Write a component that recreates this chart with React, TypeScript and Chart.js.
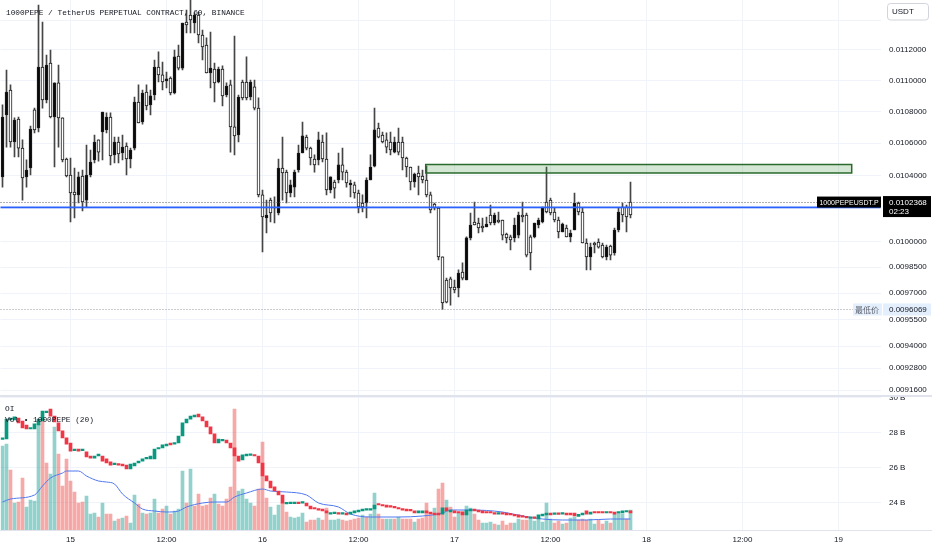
import React, { useEffect, useRef } from 'react';
import { Chart, registerables } from 'chart.js';

Chart.register(...registerables);

// ---------- text ----------
const TITLE = '1000PEPE / TetherUS PERPETUAL CONTRACT, 60, BINANCE';
const SYMBOL_LABEL = '1000PEPEUSDT.P';
const COUNTDOWN = '02:23';
const LOW_LABEL = '最低价';
const CURRENCY = 'USDT';
const OI_TITLE = 'OI';
const VOL_TITLE = 'Vol • 1000PEPE (20)';

// ---------- categories (time slots) ----------
const SLOT_COUNT = 220;
const START_MS = Date.UTC(2024, 4, 14, 15, 30);
const categories: string[] = Array.from({ length: SLOT_COUNT }, (_, i) =>
  new Date(START_MS + i * 30 * 60000).toISOString().slice(5, 16)
);
const timeTickIndex = [17, 41, 65, 89, 113, 137, 161, 185, 209];
const timeTickText = ['15', '12:00', '16', '12:00', '17', '12:00', '18', '12:00', '19'];

// ---------- price candles (price x 1e7) ----------
const openE7 = [
  107650, 109250, 106070, 107460, 105690, 103840, 104330, 106890, 106830, 110880,
  108740, 111010, 107650, 109840, 107590, 104950, 103960, 102920, 102800, 103900,
  102370, 104020, 104820, 106070, 105440, 107970, 107650, 105200, 106070, 105320,
  105750, 105010, 105570, 108610, 107270, 109190, 108350, 109000, 110880, 110360,
  109900, 110100, 109190, 111540, 110810, 113800, 113670, 114010, 114340, 113000,
  112200, 110490, 110810, 109840, 110750, 109000, 109640, 107020, 106450, 108930,
  108870, 108870, 109900, 108220, 102800, 101470, 101590, 101710, 102070, 104450,
  104140, 102920, 103410, 104200, 105380, 106450, 105690, 105070, 104640, 106200,
  105010, 103100, 103900, 103220, 104640, 104200, 103530, 103530, 102920, 102070,
  102070, 103710, 104510, 106830, 106380, 106070, 105750, 105570, 106070, 105440,
  105070, 104510, 103590, 104080, 103900, 103710, 102800, 101890, 102010, 99100,
  96440, 96490, 97300, 97180, 98160, 97870, 100220, 100990, 100990, 100810,
  100810, 101050, 101110, 101590, 101170, 100390, 100220, 100100, 100990, 101590,
  101470, 99210, 99330, 101110, 101290, 102070, 101770, 101710, 101290, 100570,
  101050, 100280, 100510, 102310, 101770, 99920, 99100, 99680, 99800, 99680,
  99100, 99680, 99210, 100690, 101770, 101590, 101470, 101590,
];
const highE7 = [
  108420, 110680, 109710, 107590, 107650, 106200, 104950, 107080, 108220, 115020,
  113870, 111670, 112000, 109840, 111010, 107590, 105070, 105070, 104450, 104200,
  104330, 105880, 105570, 106510, 106200, 107970, 107910, 107910, 106380, 106380,
  106510, 106010, 105690, 108930, 109710, 109380, 109710, 109380, 111340, 111870,
  111210, 110550, 110230, 112000, 112330, 113800, 114680, 115560, 114480, 114550,
  113330, 112800, 113200, 111140, 110880, 110950, 109840, 110030, 112930, 109060,
  110030, 111540, 110030, 110030, 108870, 103100, 102490, 102610, 102680, 105010,
  106380, 104330, 103710, 104330, 105880, 107330, 106510, 105750, 105260, 106700,
  106510, 106640, 103900, 103710, 105380, 105690, 104330, 103710, 103590, 103100,
  102800, 103840, 105260, 108220, 107270, 106700, 106640, 106700, 106380, 106950,
  106380, 105130, 104510, 104140, 104570, 104330, 104570, 102980, 102310, 102070,
  99100, 97870, 97930, 97760, 98340, 98750, 100280, 101710, 102370, 101410,
  101410, 101470, 102190, 101710, 101770, 101290, 100510, 100390, 101410, 101770,
  102370, 101710, 100390, 101110, 101410, 102070, 104510, 102610, 102010, 101470,
  101110, 100990, 100690, 102920, 102370, 102010, 100160, 99920, 99980, 100160,
  99920, 99800, 99800, 100810, 102010, 102310, 102190, 103590,
];
const lowE7 = [
  103280, 105750, 105750, 105130, 105130, 102490, 103280, 104020, 106640, 106700,
  108220, 108550, 107590, 104510, 105750, 104820, 103900, 101170, 101410, 102310,
  101830, 102070, 103900, 104760, 104880, 104950, 106640, 104640, 104760, 104760,
  104950, 104020, 104450, 105570, 107270, 107200, 108100, 107780, 108740, 109900,
  109380, 109510, 109060, 109120, 110680, 110680, 113130, 113130, 113130, 112470,
  111340, 110490, 109510, 108610, 109840, 108350, 108930, 105440, 105260, 106070,
  108740, 108740, 108740, 108100, 102680, 99390, 100510, 101170, 101110, 101590,
  102490, 102310, 102680, 102680, 104200, 105380, 105570, 104640, 104200, 104640,
  104820, 102800, 102920, 102610, 103530, 103710, 103280, 102680, 102610, 101710,
  101770, 101410, 103710, 104510, 106320, 106010, 105380, 105260, 105380, 105260,
  104330, 103900, 103100, 103280, 102800, 103530, 102680, 101710, 101890, 98920,
  96069, 96440, 96320, 97010, 96780, 97760, 97760, 100100, 100990, 100510,
  100570, 100870, 100990, 100990, 101110, 100100, 99920, 99510, 99980, 100220,
  101170, 99100, 98340, 100220, 100810, 101110, 101710, 101590, 101170, 100220,
  100570, 100280, 99980, 100690, 101590, 99920, 98340, 98340, 99330, 99620,
  99040, 98920, 98920, 99210, 100570, 101170, 100570, 101410,
];
const closeE7 = [
  103900, 107780, 109380, 106070, 107520, 105690, 103900, 104450, 108100, 106950,
  110880, 108740, 111140, 107650, 109840, 107590, 105010, 104020, 102980, 102800,
  103960, 102490, 104020, 104950, 106200, 106700, 106830, 107650, 105260, 106070,
  105380, 105820, 105010, 105690, 108610, 107330, 109250, 108420, 109060, 110880,
  110360, 109970, 110160, 109190, 111600, 110810, 113870, 114340, 113800, 114340,
  113000, 112330, 110490, 110750, 109900, 110750, 109060, 109710, 107020, 106510,
  109900, 109900, 108930, 109580, 108220, 102800, 101410, 102490, 102010, 101710,
  104450, 104200, 102920, 103280, 104330, 105380, 106380, 105690, 105010, 104950,
  106070, 105010, 103100, 103590, 103710, 104640, 104200, 103410, 103410, 102920,
  102310, 102310, 103710, 104570, 106950, 106510, 106200, 106070, 105440, 106070,
  106070, 105070, 104510, 103590, 104140, 103960, 103710, 102800, 102250, 102010,
  99100, 97760, 97820, 97350, 97300, 98220, 97760, 100220, 101170, 101110,
  100930, 100870, 101590, 101110, 101290, 101290, 100450, 100280, 100220, 100390,
  101590, 101590, 100280, 100280, 100990, 101170, 102370, 102490, 101770, 101290,
  100570, 100810, 100280, 100690, 102310, 101770, 99920, 99100, 99920, 99980,
  99800, 99100, 99740, 99330, 100690, 102070, 102070, 102368,
];

// ---------- open interest (billions) ----------
const oiOpen = [
  27.62, 27.64, 28.73, 28.73, 28.84, 28.67, 28.44, 28.21, 28.21, 28.44,
  28.67, 29.15, 29.35, 28.95, 28.56, 28.10, 27.70, 27.41, 26.98, 27.07,
  26.98, 26.90, 26.67, 26.55, 26.67, 26.67, 26.50, 26.33, 26.18, 26.21,
  26.21, 26.15, 25.93, 26.10, 26.27, 26.38, 26.50, 26.50, 26.50, 27.07,
  27.13, 27.24, 27.41, 27.35, 27.41, 27.81, 28.56, 28.78, 28.90, 29.07,
  28.90, 28.67, 28.33, 27.93, 27.41, 27.53, 27.58, 27.41, 27.13, 26.67,
  26.44, 26.67, 26.70, 26.73, 26.67, 26.27, 25.53, 25.24, 24.90, 24.67,
  24.44, 23.93, 23.95, 23.95, 24.01, 23.98, 23.98, 23.81, 23.70, 23.64,
  23.64, 23.53, 23.35, 23.38, 23.41, 23.35, 23.41, 23.35, 23.41, 23.47,
  23.53, 23.58, 23.58, 23.64, 23.93, 23.87, 23.87, 23.81, 23.75, 23.70,
  23.64, 23.64, 23.58, 23.53, 23.41, 23.41, 23.53, 23.47, 23.41, 23.41,
  23.35, 23.70, 23.47, 23.53, 23.47, 23.47, 23.30, 23.53, 23.64, 23.58,
  23.53, 23.47, 23.47, 23.41, 23.35, 23.41, 23.41, 23.35, 23.33, 23.30,
  23.24, 23.18, 23.10, 23.15, 23.07, 23.24, 23.30, 23.41, 23.33, 23.41,
  23.35, 23.41, 23.41, 23.41, 23.21, 23.30, 23.53, 23.35, 23.47, 23.47,
  23.47, 23.41, 23.47, 23.47, 23.41, 23.41, 23.47, 23.53,
];
const oiClose = [
  27.71, 28.78, 28.84, 28.90, 28.56, 28.27, 28.21, 28.27, 28.50, 28.78,
  29.24, 29.21, 28.95, 28.61, 28.10, 27.70, 27.35, 26.95, 27.04, 26.95,
  27.04, 26.61, 26.55, 26.67, 26.78, 26.38, 26.27, 26.15, 26.24, 26.15,
  26.10, 25.93, 26.21, 26.27, 26.38, 26.50, 26.55, 26.67, 27.07, 27.13,
  27.30, 27.35, 27.30, 27.41, 27.81, 28.56, 28.78, 28.95, 29.01, 28.90,
  28.67, 28.33, 27.93, 27.41, 27.64, 27.61, 27.41, 27.13, 26.67, 26.38,
  26.73, 26.78, 26.75, 26.67, 26.27, 25.53, 25.24, 24.84, 24.67, 24.44,
  23.98, 23.98, 24.01, 24.01, 23.95, 24.04, 23.81, 23.64, 23.64, 23.58,
  23.53, 23.41, 23.41, 23.44, 23.35, 23.41, 23.30, 23.47, 23.53, 23.58,
  23.64, 23.64, 23.64, 23.87, 23.87, 23.81, 23.75, 23.75, 23.70, 23.64,
  23.58, 23.53, 23.53, 23.41, 23.53, 23.53, 23.41, 23.38, 23.30, 23.30,
  23.70, 23.53, 23.58, 23.41, 23.41, 23.30, 23.58, 23.64, 23.53, 23.47,
  23.41, 23.41, 23.41, 23.35, 23.41, 23.35, 23.30, 23.30, 23.24, 23.18,
  23.18, 23.13, 23.15, 23.10, 23.30, 23.35, 23.41, 23.30, 23.41, 23.33,
  23.44, 23.30, 23.30, 23.24, 23.33, 23.41, 23.35, 23.47, 23.41, 23.41,
  23.41, 23.47, 23.41, 23.35, 23.47, 23.53, 23.53, 23.41,
];

// ---------- volume (relative units) and direction (1 = up, 0 = down) ----------
const volume = [
  84, 86, 60, 27, 28, 52, 23, 30, 29, 106, 111, 67, 56, 103, 76, 44, 71, 49, 38, 27,
  28, 34, 16, 17, 13, 27, 16, 16, 9, 11, 12, 14, 7, 35, 26, 17, 16, 17, 31, 17,
  21, 24, 16, 19, 21, 59, 27, 61, 24, 36, 24, 25, 32, 36, 26, 24, 31, 43, 121, 39,
  41, 31, 27, 24, 41, 88, 32, 23, 15, 25, 27, 18, 13, 12, 13, 17, 8, 10, 10, 12,
  10, 22, 10, 10, 11, 10, 9, 10, 11, 12, 15, 13, 16, 37, 16, 11, 11, 11, 11, 13,
  11, 11, 11, 8, 11, 12, 27, 17, 22, 41, 47, 30, 23, 13, 17, 19, 24, 22, 16, 10,
  7, 7, 8, 6, 5, 9, 5, 7, 7, 11, 10, 10, 11, 9, 11, 8, 27, 11, 7, 9,
  6, 7, 12, 13, 10, 11, 10, 11, 6, 10, 6, 9, 7, 16, 17, 16, 11, 20,
];
const volumeUp = [
  1, 1, 0, 1, 0, 0, 1, 1, 1, 1, 0, 0, 1, 1, 0, 0, 0, 0, 0, 0,
  0, 1, 1, 1, 0, 1, 0, 0, 1, 0, 1, 0, 1, 1, 0, 1, 0, 1, 1, 0,
  0, 1, 0, 1, 1, 1, 0, 1, 0, 0, 0, 0, 0, 1, 0, 0, 0, 0, 0, 1,
  1, 1, 1, 0, 0, 0, 0, 1, 1, 1, 0, 0, 1, 1, 1, 1, 0, 0, 0, 1,
  0, 0, 1, 1, 1, 0, 0, 0, 0, 0, 1, 0, 1, 1, 0, 0, 1, 1, 0, 1,
  0, 0, 0, 1, 0, 0, 0, 0, 1, 0, 0, 1, 0, 0, 1, 0, 1, 1, 0, 0,
  1, 1, 1, 0, 1, 0, 0, 0, 1, 1, 0, 0, 1, 1, 1, 1, 1, 1, 0, 0,
  1, 0, 1, 1, 0, 0, 0, 1, 1, 0, 0, 1, 0, 1, 1, 1, 0, 1,
];
// volume moving average (20), read at sample slots
const volMaIndex = [0, 2, 8, 10, 12, 15, 16, 19, 21, 24, 26, 28, 30, 33, 35, 38, 41, 44, 46, 50, 53, 56, 58, 61, 65, 67, 71, 76, 79, 84, 87, 92, 99, 105, 110, 112, 117, 125, 130, 135, 140, 146, 152, 157];
const volMaValue = [28, 31, 35, 44, 52, 57, 59, 59, 54, 49, 48, 46, 36, 27, 21, 19, 18, 19, 23, 27, 28, 28, 33, 37, 41, 39, 38, 35, 27, 23, 16, 13, 13, 14, 17, 20, 20, 18, 14, 11, 10, 10, 11, 11];

// ---------- axes ----------
const PRICE_MAX = 0.011536;
const PRICE_MIN = 0.0091277;
const priceTicks = [0.0114, 0.0112, 0.011, 0.0108, 0.0106, 0.0104, 0.0102, 0.01, 0.00985, 0.0097, 0.00955, 0.0094, 0.00928, 0.00916];
const priceTicksUnlabelled = [0.0114, 0.0102];
const OI_MIN = 22.44;
const OI_MAX = 30.04;
const oiTicks = [24, 26, 28, 30];
const VOL_MAX = 133;

// ---------- drawings ----------
const LAST_PRICE = 0.0102368;
const LOW_PRICE = 0.0096069;
const BLUE_LINE_PRICE = 0.010205;
const ZONE_START = 105.8;
const ZONE_END = 212.3;
const ZONE_HIGH = 0.0104667;
const ZONE_LOW = 0.0104143;

const GRID = '#f0f3fa';
const TEXT = '#131722';
const AXIS_FONT = { family: "'Liberation Sans', Arial, sans-serif", size: 8 };
const Y_AXIS_WIDTH = 51.5;

const fitY = (s: any) => {
  s.width = Y_AXIS_WIDTH;
  s.paddingTop = 0;
  s.paddingBottom = 0;
};

export default function App() {
  const topRef = useRef<HTMLCanvasElement>(null);
  const botRef = useRef<HTMLCanvasElement>(null);

  useEffect(() => {
    document.body.style.margin = '0';
    const E7 = 1e-7;
    const bodyData = openE7.map((o, i) => [Math.min(o, closeE7[i]) * E7, Math.max(o, closeE7[i]) * E7]);
    const wickData = lowE7.map((l, i) => [l * E7, highE7[i] * E7]);
    const bodyFill = openE7.map((o, i) => (closeE7[i] >= o ? '#ffffff' : '#0a0a0a'));

    const mainOverlay = {
      id: 'mainOverlay',
      afterDatasetsDraw(chart: any) {
        const { ctx, chartArea } = chart;
        const xs = chart.scales.x;
        const ys = chart.scales.y;
        ctx.save();
        const zx0 = xs.getPixelForValue(ZONE_START);
        const zx1 = xs.getPixelForValue(ZONE_END);
        const zy0 = ys.getPixelForValue(ZONE_HIGH);
        const zy1 = ys.getPixelForValue(ZONE_LOW);
        ctx.fillStyle = 'rgba(60,140,60,0.22)';
        ctx.fillRect(zx0, zy0, zx1 - zx0, zy1 - zy0);
        ctx.strokeStyle = '#2a6a2c';
        ctx.lineWidth = 1.5;
        ctx.strokeRect(zx0, zy0, zx1 - zx0, zy1 - zy0);
        const by = ys.getPixelForValue(BLUE_LINE_PRICE);
        ctx.strokeStyle = '#2962ff';
        ctx.lineWidth = 1.6;
        ctx.beginPath();
        ctx.moveTo(chartArea.left, by);
        ctx.lineTo(chartArea.right, by);
        ctx.stroke();
        ctx.setLineDash([1, 2]);
        ctx.lineWidth = 1;
        ctx.strokeStyle = '#5d606b';
        const ly = Math.round(ys.getPixelForValue(LAST_PRICE)) + 0.5;
        ctx.beginPath();
        ctx.moveTo(chartArea.left, ly);
        ctx.lineTo(817, ly);
        ctx.stroke();
        const lowY = Math.round(ys.getPixelForValue(LOW_PRICE)) + 0.5;
        ctx.strokeStyle = '#9598a1';
        ctx.beginPath();
        ctx.moveTo(chartArea.left, lowY);
        ctx.lineTo(853, lowY);
        ctx.stroke();
        ctx.restore();
      },
      afterDraw(chart: any) {
        const { ctx } = chart;
        const ys = chart.scales.y;
        ctx.save();
        ctx.fillStyle = TEXT;
        ctx.font = "7.8px 'Liberation Mono', monospace";
        ctx.textBaseline = 'middle';
        ctx.textAlign = 'left';
        ctx.fillText(TITLE, 6, 13);
        ctx.fillStyle = '#ffffff';
        ctx.strokeStyle = '#d1d4dc';
        ctx.lineWidth = 1;
        ctx.beginPath();
        (ctx as any).roundRect(887.5, 3.5, 41, 16.5, 3);
        ctx.fill();
        ctx.stroke();
        ctx.fillStyle = TEXT;
        ctx.font = "8px 'Liberation Sans', Arial, sans-serif";
        ctx.fillText(CURRENCY, 892, 12);
        const ly = ys.getPixelForValue(LAST_PRICE);
        ctx.fillStyle = '#000000';
        ctx.fillRect(817, ly - 5.5, 64, 11);
        ctx.fillRect(883, ly - 6, 48, 21);
        ctx.fillStyle = '#ffffff';
        ctx.font = "7px 'Liberation Sans', Arial, sans-serif";
        ctx.textAlign = 'center';
        ctx.fillText(SYMBOL_LABEL, 849, ly + 0.5);
        ctx.textAlign = 'left';
        ctx.font = "8px 'Liberation Sans', Arial, sans-serif";
        ctx.fillText(LAST_PRICE.toFixed(7), 889, ly + 0.5);
        ctx.fillText(COUNTDOWN, 889, ly + 10);
        const lowY = ys.getPixelForValue(LOW_PRICE);
        ctx.fillStyle = '#e3effd';
        ctx.fillRect(853, lowY - 6, 29, 12);
        ctx.fillRect(883, lowY - 6, 48, 12);
        ctx.fillStyle = '#5d606b';
        ctx.textAlign = 'center';
        ctx.font = "8px 'Noto Sans CJK SC', sans-serif";
        ctx.fillText(LOW_LABEL, 867, lowY + 0.5);
        ctx.fillStyle = TEXT;
        ctx.textAlign = 'left';
        ctx.font = "8px 'Liberation Sans', Arial, sans-serif";
        ctx.fillText(LOW_PRICE.toFixed(7), 889, lowY + 0.5);
        ctx.strokeStyle = '#e0e3eb';
        ctx.lineWidth = 1;
        ctx.beginPath();
        ctx.moveTo(0, 395.5);
        ctx.lineTo(932, 395.5);
        ctx.stroke();
        ctx.restore();
      },
    };

    const top = new Chart(topRef.current as HTMLCanvasElement, {
      type: 'bar',
      data: {
        labels: categories,
        datasets: [
          {
            label: 'wick',
            data: wickData as any,
            backgroundColor: '#454545',
            borderWidth: 0,
            barThickness: 1,
            grouped: false,
            order: 2,
          } as any,
          {
            label: 'body',
            data: bodyData as any,
            backgroundColor: bodyFill,
            borderColor: '#1a1a1a',
            borderWidth: 1,
            borderSkipped: false,
            barThickness: 3,
            minBarLength: 1,
            grouped: false,
            order: 1,
          } as any,
        ],
      },
      options: {
        responsive: false,
        animation: false,
        events: [],
        layout: { padding: { left: 0.5, top: 0, right: 0, bottom: 0 } },
        plugins: { legend: { display: false }, tooltip: { enabled: false } },
        scales: {
          x: {
            type: 'category',
            offset: true,
            grid: { color: GRID, offset: false, drawTicks: false },
            border: { display: false },
            ticks: { display: false, autoSkip: false },
            afterBuildTicks: (s: any) => {
              s.ticks = timeTickIndex.map((v) => ({ value: v }));
            },
            afterFit: (s: any) => {
              s.height = 0;
              s.paddingLeft = 0;
              s.paddingRight = 0;
            },
          },
          y: {
            type: 'logarithmic',
            position: 'right',
            min: PRICE_MIN,
            max: PRICE_MAX,
            bounds: 'data',
            grid: { color: GRID, drawTicks: false },
            border: { display: false },
            ticks: {
              font: AXIS_FONT,
              color: TEXT,
              padding: 8.5,
              autoSkip: false,
              callback: (v: any) => (priceTicksUnlabelled.includes(Number(v)) ? '' : Number(v).toFixed(7)),
            },
            afterBuildTicks: (s: any) => {
              s.ticks = priceTicks.map((v) => ({ value: v }));
            },
            afterFit: fitY,
          },
        },
      } as any,
      plugins: [mainOverlay],
    });

    const oiBodies = oiOpen.map((o, i) => [Math.min(o, oiClose[i]), Math.max(o, oiClose[i])]);
    const oiColors = oiOpen.map((o, i) => (oiClose[i] >= o ? '#089981' : '#f23645'));
    const volColors = volumeUp.map((u) => (u ? 'rgba(38,166,154,0.5)' : 'rgba(239,83,80,0.5)'));
    const maData: (number | null)[] = volume.map(() => null);
    volMaIndex.forEach((idx, k) => {
      maData[idx] = volMaValue[k];
    });

    const botOverlay = {
      id: 'botOverlay',
      afterDraw(chart: any) {
        const { ctx, chartArea } = chart;
        ctx.save();
        ctx.fillStyle = TEXT;
        ctx.font = "7.8px 'Liberation Mono', monospace";
        ctx.textBaseline = 'middle';
        ctx.textAlign = 'left';
        ctx.fillText(OI_TITLE, 5, 12.5);
        ctx.fillText(VOL_TITLE, 5, 24);
        ctx.strokeStyle = '#e0e3eb';
        ctx.lineWidth = 1;
        ctx.beginPath();
        ctx.moveTo(0, 0.5);
        ctx.lineTo(932, 0.5);
        ctx.moveTo(0, Math.round(chartArea.bottom) + 0.5);
        ctx.lineTo(932, Math.round(chartArea.bottom) + 0.5);
        ctx.stroke();
        ctx.restore();
      },
    };

    const bot = new Chart(botRef.current as HTMLCanvasElement, {
      type: 'bar',
      data: {
        labels: categories,
        datasets: [
          {
            type: 'bar',
            label: 'OI',
            data: oiBodies as any,
            backgroundColor: oiColors,
            borderWidth: 0,
            barThickness: 3,
            minBarLength: 1.5,
            grouped: false,
            yAxisID: 'yOI',
            order: 1,
          } as any,
          {
            type: 'line',
            label: 'Vol MA',
            data: maData,
            borderColor: '#4f78f0',
            borderWidth: 1,
            pointRadius: 0,
            spanGaps: true,
            cubicInterpolationMode: 'monotone',
            yAxisID: 'yVol',
            order: 2,
          } as any,
          {
            type: 'bar',
            label: 'Vol',
            data: volume,
            backgroundColor: volColors,
            borderWidth: 0,
            barThickness: 3,
            grouped: false,
            yAxisID: 'yVol',
            order: 3,
          } as any,
        ],
      },
      options: {
        responsive: false,
        animation: false,
        events: [],
        layout: { padding: { left: 0.5, top: 1, right: 0, bottom: 0 } },
        plugins: { legend: { display: false }, tooltip: { enabled: false } },
        scales: {
          x: {
            type: 'category',
            offset: true,
            grid: { color: GRID, offset: false, drawTicks: false },
            border: { display: false },
            ticks: {
              display: true,
              autoSkip: false,
              maxRotation: 0,
              padding: 5,
              font: AXIS_FONT,
              color: TEXT,
              callback: (_v: any, i: number) => timeTickText[i],
            },
            afterBuildTicks: (s: any) => {
              s.ticks = timeTickIndex.map((v) => ({ value: v }));
            },
            afterFit: (s: any) => {
              s.height = 20;
              s.paddingLeft = 0;
              s.paddingRight = 0;
            },
          },
          yOI: {
            type: 'linear',
            position: 'right',
            min: OI_MIN,
            max: OI_MAX,
            grid: { color: GRID, drawTicks: false },
            border: { display: false },
            ticks: {
              font: AXIS_FONT,
              color: TEXT,
              padding: 8.5,
              callback: (v: any) => `${v} B`,
            },
            afterBuildTicks: (s: any) => {
              s.ticks = oiTicks.map((v) => ({ value: v }));
            },
            afterFit: fitY,
          },
          yVol: {
            type: 'linear',
            display: false,
            min: 0,
            max: VOL_MAX,
          },
        },
      } as any,
      plugins: [botOverlay],
    });

    return () => {
      top.destroy();
      bot.destroy();
    };
  }, []);

  return (
    <div style={{ position: 'relative', width: 932, height: 550, background: '#ffffff', overflow: 'hidden' }}>
      <canvas ref={topRef} width={932} height={396} style={{ position: 'absolute', left: 0, top: 0, width: 932, height: 396 }} />
      <canvas ref={botRef} width={932} height={154} style={{ position: 'absolute', left: 0, top: 396, width: 932, height: 154 }} />
    </div>
  );
}
